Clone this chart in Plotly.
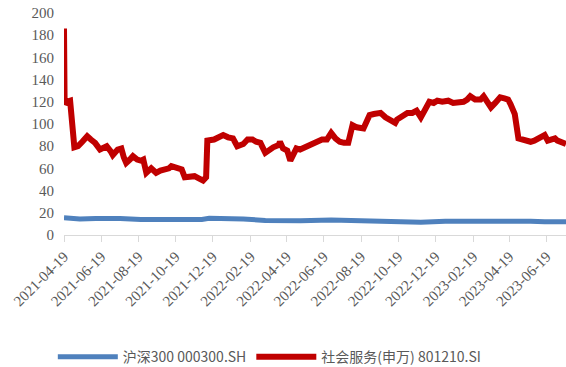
import plotly.graph_objects as go

red_dates = ["2021-04-19","2021-04-20","2021-04-23","2021-04-29","2021-05-06","2021-05-12","2021-05-19","2021-05-27",
"2021-06-02","2021-06-09","2021-06-17","2021-06-22","2021-06-28","2021-07-05","2021-07-08","2021-07-16","2021-07-22",
"2021-07-26","2021-07-30","2021-08-05","2021-08-10","2021-08-17","2021-08-23","2021-08-27","2021-09-01","2021-09-09",
"2021-09-17","2021-09-24","2021-10-08","2021-10-12","2021-10-22","2021-10-29","2021-11-03","2021-11-11","2021-11-19",
"2021-11-26","2021-12-03","2021-12-08","2021-12-10","2021-12-21","2021-12-31","2022-01-05","2022-01-13","2022-01-21",
"2022-01-28","2022-02-07","2022-02-14","2022-02-22","2022-02-28","2022-03-07","2022-03-15","2022-03-23","2022-03-28",
"2022-04-06","2022-04-08","2022-04-13","2022-04-20","2022-04-25","2022-05-05","2022-05-11","2022-05-19","2022-05-27",
"2022-06-02","2022-06-10","2022-06-16","2022-06-24","2022-07-01","2022-07-08","2022-07-15","2022-07-22","2022-07-29",
"2022-08-05","2022-08-12","2022-08-23","2022-08-29","2022-09-02","2022-09-09","2022-09-20","2022-09-28","2022-10-10",
"2022-10-14","2022-10-17","2022-10-26","2022-11-03","2022-11-11","2022-11-18","2022-11-25","2022-12-02","2022-12-09",
"2022-12-16","2022-12-22","2022-12-30","2023-01-09","2023-01-17","2023-01-30","2023-02-03","2023-02-09","2023-02-14",
"2023-02-22","2023-03-03","2023-03-08","2023-03-14","2023-03-20","2023-03-27","2023-03-31","2023-04-04","2023-04-11",
"2023-04-17","2023-04-21","2023-04-24","2023-04-28","2023-05-04","2023-05-15","2023-05-24","2023-05-30","2023-06-05",
"2023-06-12","2023-06-16","2023-06-21","2023-06-28","2023-07-03","2023-07-07","2023-07-14","2023-07-21"]
red_values = [186,118,120,121,79,80,84,89,
86,83,77,79,80,75,72,77,78,
70,65,68,71,68,67,68,56,60,
56,58,60,62,60,59,52,53,53,
51,49,52,85,86,88,90,88,87,
80,82,86,86,84,83,74,78,79,
81,84,78,76,67,78,77,79,81,
83,84,86,86,92,87,84,83,83,
99,97,96,102,108,109,110,106,103,
101,104,107,110,110,112,106,114,120,
119,121,120,121,119,120,120,122,125,
122,122,125,120,115,119,122,124,123,
122,118,113,109,87,86,84,85,87,
88,90,85,86,87,85,84,82]

blue_dates = ["2021-04-19","2021-04-29","2021-05-15","2021-06-10","2021-07-01","2021-07-20","2021-08-23","2021-09-24",
"2021-10-28","2021-12-01","2021-12-13","2022-01-03","2022-02-07","2022-03-15","2022-04-08","2022-05-12","2022-07-01",
"2022-08-05","2022-09-07","2022-10-11","2022-10-31","2022-11-25","2023-01-04","2023-02-17","2023-03-20","2023-04-21",
"2023-05-24","2023-06-16","2023-07-21"]
blue_values = [15.5,14.8,14.5,14.8,15.2,14.8,14.0,13.8,
13.8,14.0,15.0,14.8,14.5,13.0,12.5,12.8,13.5,
13.0,12.5,11.5,10.8,11.5,12.5,12.8,13.0,13.3,
12.5,12.0,12.0]

name_blue = "沪深300 000300.SH"
name_red = "社会服务(申万) 801210.SI"
y_ticks = [0, 20, 40, 60, 80, 100, 120, 140, 160, 180, 200]

fig = go.Figure()
fig.add_trace(go.Scatter(x=blue_dates, y=blue_values, mode="lines", name=name_blue,
                         line=dict(color="#4F81BD", width=5)))
fig.add_trace(go.Scatter(x=red_dates, y=red_values, mode="lines", name=name_red,
                         line=dict(color="#C00000", width=6)))

tick_font = dict(family="Liberation Serif", size=15, color="#595959")
fig.update_layout(
    width=566, height=367,
    margin=dict(l=64, r=0, t=13, b=132, autoexpand=False),
    paper_bgcolor="white", plot_bgcolor="white",
    showlegend=True,
    legend=dict(orientation="h", x=0.41, xanchor="center", y=-0.55, yanchor="middle",
                font=dict(family="Noto Sans CJK SC", size=14, color="#595959"),
                itemwidth=60, tracegroupgap=0),
    xaxis=dict(type="date", range=["2021-04-19", "2023-07-21"],
               tick0="2021-04-19", dtick="M2", tickformat="%Y-%m-%d",
               tickangle=-45, tickfont=tick_font, automargin=False,
               showline=True, linecolor="#D9D9D9", linewidth=1,
               ticks="outside", ticklen=6, tickcolor="#D9D9D9",
               showgrid=False, zeroline=False),
    yaxis=dict(range=[0, 200], tickvals=y_ticks, tickfont=tick_font,
               ticklabelstandoff=9, automargin=False,
               showline=False, showgrid=False, zeroline=False, ticks=""),
)
fig.write_html("out.html")
